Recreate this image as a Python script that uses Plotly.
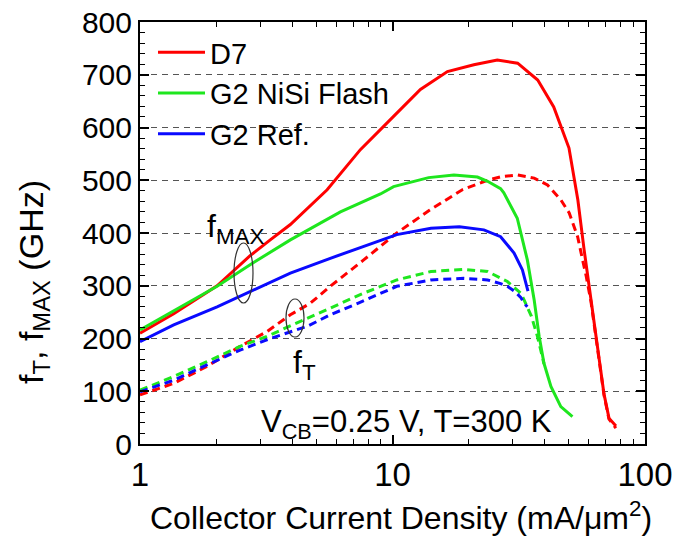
import plotly.graph_objects as go

# ---------------- data ----------------
d7_fmax_x = [1, 1.36, 2.02, 2.73, 3.28, 3.94, 5.51, 6.22, 7.46, 10.1, 12.9, 16.5, 21.0, 26.0, 31.3, 37.6, 43.5, 50.0, 54.2, 57.4, 61.1, 65.1, 68.8, 72.0, 76.7]
d7_fmax_y = [210, 247, 300, 357, 387, 416, 482, 512, 558, 621, 672, 706, 719, 728, 722, 690, 639, 561, 463, 368, 273, 177, 95, 49, 34]

g2n_fmax_x = [1, 1.36, 2.02, 2.73, 3.94, 6.22, 8.96, 10.1, 13.9, 17.5, 21.7, 23.8, 26.8, 27.6, 31.2, 34.2, 36.4, 38.1, 39.8, 42.4, 46.4, 51.6]
g2n_fmax_y = [216, 252, 299, 340, 387, 440, 474, 488, 505, 510, 506, 498, 484, 476, 428, 349, 273, 204, 153, 109, 71, 52]

g2r_fmax_x = [1, 1.36, 2.02, 2.73, 3.94, 5.67, 7.69, 10.4, 14.2, 18.4, 23.0, 26.8, 30.3, 32.7, 34.4]
g2r_fmax_y = [194, 226, 260, 289, 324, 352, 374, 397, 409, 412, 406, 393, 362, 330, 290]

d7_ft_x = [1, 1.36, 1.84, 2.49, 3.18, 3.94, 4.73, 5.67, 7.69, 10.4, 14.0, 18.9, 23.8, 27.0, 31.2, 36.4, 41.1, 46.4, 50.1, 54.1, 56.6, 58.5, 61.1, 65.1, 68.8, 72.0, 76.7]
d7_ft_y = [93, 115, 147, 185, 213, 245, 267, 299, 349, 400, 443, 482, 500, 507, 510, 504, 491, 463, 438, 393, 349, 318, 270, 175, 93, 47, 30]

g2n_ft_x = [1, 1.36, 1.84, 2.49, 3.18, 4.31, 5.9, 7.69, 10.4, 14.2, 19.2, 23.8, 28.5, 32.2, 33.2, 35.5, 37.5, 38.7, 39.8]
g2n_ft_y = [102, 128, 156, 185, 204, 232, 262, 286, 311, 327, 331, 327, 308, 286, 273, 242, 204, 178, 152]

g2r_ft_x = [1, 1.36, 1.84, 2.49, 3.28, 4.59, 5.67, 7.4, 10.4, 14.2, 19.2, 23.8, 26.8, 28.5, 30.3, 32.2, 33.2, 34.2]
g2r_ft_y = [99, 121, 150, 178, 200, 223, 245, 268, 299, 311, 314, 311, 304, 299, 290, 278, 267, 260]

series_names = ["D7", "G2 NiSi Flash", "G2 Ref."]
x_tick_vals = [1, 10, 100]
x_tick_text = ["1", "10", "100"]
y_tick_vals = [0, 100, 200, 300, 400, 500, 600, 700, 800]

RED, GREEN, BLUE = "#ff0000", "#1ee61e", "#0a0aff"
FONT = "Liberation Sans, Arial, sans-serif"
LW = 3
DASH = "8px,5px"

fig = go.Figure()

# dashed fT curves
for x, y, c in [(d7_ft_x, d7_ft_y, RED), (g2n_ft_x, g2n_ft_y, GREEN), (g2r_ft_x, g2r_ft_y, BLUE)]:
    fig.add_trace(go.Scatter(x=x, y=y, mode="lines", showlegend=False,
                             line=dict(color=c, width=LW, dash=DASH)))

# solid fMAX curves
for x, y, c, n in [(d7_fmax_x, d7_fmax_y, RED, series_names[0]),
                   (g2n_fmax_x, g2n_fmax_y, GREEN, series_names[1]),
                   (g2r_fmax_x, g2r_fmax_y, BLUE, series_names[2])]:
    fig.add_trace(go.Scatter(x=x, y=y, mode="lines", name=n,
                             line=dict(color=c, width=LW)))

W, H = 676, 536
L, R, T, B = 140, 31, 22, 92
pw, ph = W - L - R, H - T - B


def px(xp):
    return (xp - L) / pw


def py(yp):
    return (H - B - yp) / ph


# white masks hiding gridlines behind legend / label text (between grid and traces)
for x0, x1, y0, y1 in [(141, 403, 62, 110), (141, 373, 112, 150), (196, 228, 226, 240)]:
    fig.add_shape(type="rect", xref="paper", yref="paper", layer="between",
                  x0=px(x0), x1=px(x1), y0=py(y1), y1=py(y0),
                  fillcolor="white", line=dict(width=0))

# ellipses
fig.add_shape(type="circle", xref="paper", yref="paper",
              x0=px(234), x1=px(253), y0=py(303), y1=py(243),
              line=dict(color="#333333", width=1.2))
fig.add_shape(type="circle", xref="paper", yref="paper",
              x0=px(286), x1=px(304), y0=py(337), y1=py(299),
              line=dict(color="#333333", width=1.2))

fig.add_annotation(xref="paper", yref="paper", x=px(205), y=py(228),
                   xanchor="left", yanchor="middle", showarrow=False,
                   text="f<sub>MAX</sub>", font=dict(family=FONT, size=32, color="black"))
fig.add_annotation(xref="paper", yref="paper", x=px(291), y=py(364),
                   xanchor="left", yanchor="middle", showarrow=False,
                   text="f<sub>T</sub>", font=dict(family=FONT, size=32, color="black"))
fig.add_annotation(xref="paper", yref="paper", x=px(259), y=py(424),
                   xanchor="left", yanchor="middle", showarrow=False,
                   text="V<sub>CB</sub>=0.25 V, T=300 K", font=dict(family=FONT, size=31, color="black"))

# axis titles
fig.add_annotation(xref="paper", yref="paper", x=px(401), y=py(516),
                   xanchor="center", yanchor="middle", showarrow=False,
                   text="Collector Current Density (mA/μm<sup>2</sup>)",
                   font=dict(family=FONT, size=32, color="black"))
fig.add_annotation(xref="paper", yref="paper", x=px(34), y=py(282),
                   xanchor="center", yanchor="middle", showarrow=False, textangle=-90,
                   text="f<sub>T</sub>, f<sub>MAX</sub> (GHz)",
                   font=dict(family=FONT, size=34, color="black"))

axis_common = dict(
    showline=True, linecolor="black", linewidth=2, mirror="allticks",
    ticks="inside", ticklen=9, tickwidth=1.5, tickcolor="black",
    zeroline=False,
)

fig.update_xaxes(
    type="log", range=[0, 2], tickvals=x_tick_vals, ticktext=x_tick_text,
    showgrid=False,
    minor=dict(ticks="inside", ticklen=5, tickwidth=1.2, tickcolor="black", dtick="D1", showgrid=False),
    tickfont=dict(family=FONT, size=33, color="black"),
    **axis_common,
)

fig.update_yaxes(
    range=[0, 800], tickvals=y_tick_vals,
    showgrid=True, gridcolor="#555555", gridwidth=1.2, griddash="6px,5px",
    minor=dict(ticks="inside", ticklen=5, tickwidth=1.2, tickcolor="black", dtick=20, showgrid=False),
    tickfont=dict(family=FONT, size=30, color="black"),
    **axis_common,
)

fig.update_layout(
    width=W, height=H,
    margin=dict(l=L, r=R, t=T, b=B, autoexpand=False),
    paper_bgcolor="white", plot_bgcolor="white",
    font=dict(family=FONT, color="black"),
    legend=dict(x=px(153), y=py(27), xanchor="left", yanchor="top",
                bgcolor="rgba(0,0,0,0)", borderwidth=0,
                font=dict(family=FONT, size=29, color="black"),
                itemwidth=47, tracegroupgap=0),
)

fig.write_html("out.html")
